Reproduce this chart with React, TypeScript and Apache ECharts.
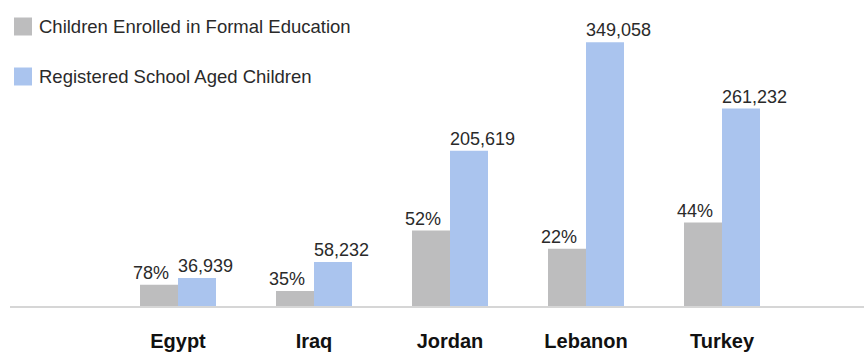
import React, { useEffect, useRef } from "react";
import * as echarts from "echarts";

const countries = ["Egypt", "Iraq", "Jordan", "Lebanon", "Turkey"];
const enrolledCounts = [28200, 19900, 99800, 75900, 110400];
const enrolledPct = ["78%", "35%", "52%", "22%", "44%"];
const registered = [36939, 58232, 205619, 349058, 261232];
const seriesNames = ["Children Enrolled in Formal Education", "Registered School Aged Children"];

const FONT = "Liberation Sans";

export default function App() {
  const ref = useRef<HTMLDivElement>(null);
  useEffect(() => {
    const chart = echarts.init(ref.current!, null, { renderer: "svg" });
    chart.setOption({
      animation: false,
      textStyle: { fontFamily: FONT },
      legend: {
        orient: "vertical",
        left: 14,
        top: 17,
        padding: 0,
        itemWidth: 18,
        itemHeight: 18,
        itemGap: 31,
        icon: "rect",
        textStyle: { fontSize: 18.5, color: "#2a2a2a", fontFamily: FONT, padding: [0, 0, 0, 2] },
        data: seriesNames,
      },
      grid: { left: 110, right: 74, top: 34, bottom: 47 },
      xAxis: {
        type: "category",
        data: countries,
        axisLine: { show: false },
        axisTick: { show: false },
        axisLabel: {
          fontSize: 20,
          fontWeight: "bold",
          color: "#111",
          margin: 25,
          fontFamily: FONT,
        },
      },
      yAxis: {
        type: "value",
        min: 0,
        max: 360000,
        show: false,
        splitLine: { show: false },
      },
      graphic: [
        {
          type: "line",
          shape: { x1: 10, y1: 307, x2: 864, y2: 307 },
          style: { stroke: "#d6d6d6", lineWidth: 2 },
          z: 10,
        },
      ],
      series: [
        {
          name: seriesNames[0],
          type: "bar",
          data: enrolledCounts,
          barWidth: 38,
          barGap: "0%",
          barCategoryGap: "44%",
          itemStyle: { color: "#bdbdbe" },
          label: {
            show: true,
            position: "top",
            distance: 3,
            offset: [-8, 0],
            fontSize: 18,
            color: "#2a2a2a",
            fontFamily: FONT,
            formatter: (p: any) => enrolledPct[p.dataIndex],
          },
        },
        {
          name: seriesNames[1],
          type: "bar",
          data: registered,
          barWidth: 38,
          itemStyle: { color: "#aac4ee" },
          label: {
            show: true,
            position: "top",
            distance: 3,
            align: "left",
            offset: [-19, 0],
            fontSize: 18,
            color: "#2a2a2a",
            fontFamily: FONT,
            formatter: (p: any) => p.value.toLocaleString("en-US"),
          },
        },
      ],
    });
    return () => chart.dispose();
  }, []);
  return <div ref={ref} style={{ width: 864, height: 353, position: "absolute", left: 0, top: 0 }} />;
}
